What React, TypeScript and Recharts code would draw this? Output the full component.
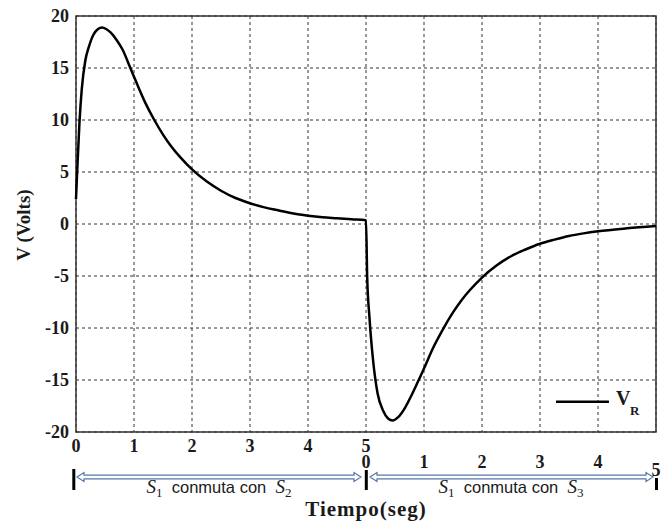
import React from 'react';
import { LineChart, Line, XAxis, YAxis, CartesianGrid, ReferenceArea, Legend } from 'recharts';

// time axis (s), continuous over both switching intervals
const tValues = [
  0, 0.02, 0.06, 0.1, 0.16, 0.22, 0.3, 0.38, 0.45, 0.52, 0.6, 0.7, 0.8, 0.93, 1.05, 1.2, 1.35, 1.5, 1.65, 1.8,
  2.0, 2.25, 2.5, 2.75, 3.0, 3.25, 3.5, 3.75, 4.0, 4.25, 4.5, 4.75, 5.0,
  5.02, 5.06, 5.12, 5.2, 5.3, 5.38, 5.46, 5.55, 5.68, 5.8, 5.9, 6.0, 6.15, 6.3, 6.5, 6.65, 6.8,
  7.0, 7.25, 7.5, 7.75, 8.0, 8.25, 8.5, 8.75, 9.0, 9.5, 10,
];
const vrValues = [
  2.4, 5, 9.8, 13, 15.7, 17, 18.2, 18.75, 18.9, 18.75, 18.4, 17.7, 16.8, 15.1, 13.5, 11.6, 10.0, 8.6, 7.4, 6.4,
  5.25, 4.1, 3.2, 2.5, 2.0, 1.6, 1.3, 1.0, 0.8, 0.65, 0.55, 0.45, 0.35,
  -5, -9, -13, -16.3, -18, -18.7, -18.9, -18.6, -17.6, -16.3, -15.1, -13.9, -12.0, -10.4, -8.5, -7.3, -6.3,
  -5.15, -4.0, -3.1, -2.45, -1.9, -1.5, -1.15, -0.9, -0.7, -0.42, -0.2,
];
const xTicks = [0, 1, 2, 3, 4, 5, 6, 7, 8, 9, 10];
const yTicks = [-20, -15, -10, -5, 0, 5, 10, 15, 20];

const data = tValues.map((t, i) => ({ t, vr: vrValues[i] }));

const SERIF = '"Liberation Serif", "DejaVu Serif", serif';
const SANS = '"Liberation Sans", Arial, sans-serif';
const TXT = '#1a1a1a';
const ARROW = '#5577aa';

const tickX: Record<number, number> = {};

function arrowPath(x1: number, x2: number, cy: number) {
  const sh = 1.8, hh = 4.5, hl = 7;
  return `M${x1},${cy} L${x1 + hl},${cy - hh} L${x1 + hl},${cy - sh} L${x2 - hl},${cy - sh} L${x2 - hl},${cy - hh} L${x2},${cy} L${x2 - hl},${cy + hh} L${x2 - hl},${cy + sh} L${x1 + hl},${cy + sh} L${x1 + hl},${cy + hh} Z`;
}

function SwitchLabel({ cx, y, sub }: { cx: number; y: number; sub: string }) {
  return (
    <text x={cx} y={y} textAnchor="middle" fill={TXT}>
      <tspan fontFamily={SERIF} fontStyle="italic" fontSize={19}>S</tspan>
      <tspan fontFamily={SERIF} fontSize={13} dy={4}>1</tspan>
      <tspan fontFamily={SANS} fontSize={16.5} dy={-4}>{'\u00a0\u00a0conmuta con\u00a0\u00a0'}</tspan>
      <tspan fontFamily={SERIF} fontStyle="italic" fontSize={19}>S</tspan>
      <tspan fontFamily={SERIF} fontSize={13} dy={4}>{sub}</tspan>
    </text>
  );
}

function XTick(props: any) {
  const { x, y, payload } = props;
  const v = payload.value as number;
  tickX[v] = x;
  const st = { fontFamily: SERIF, fontWeight: 'bold' as const, fontSize: 18, fill: TXT };
  const out: React.ReactNode[] = [];
  if (v < 5) out.push(<text key="a" x={x} y={y + 20} textAnchor="middle" {...st}>{v}</text>);
  if (v === 5)
    out.push(
      <text key="a5" x={x} y={y + 20} textAnchor="middle" {...st}>
        <tspan x={x}>5</tspan>
        <tspan x={x} dy={16}>0</tspan>
      </text>
    );
  if (v > 5 && v < 10) out.push(<text key="b" x={x} y={y + 36} textAnchor="middle" {...st}>{v - 5}</text>);
  if (v === 10) out.push(<text key="c" x={x} y={y + 44} textAnchor="middle" {...st}>5</text>);
  if (v === 0) out.push(<rect key="r0" x={x - 3.7} y={y + 37} width={3} height={21} fill="#000" />);
  if (v === 5) {
    out.push(<rect key="r5" x={x - 1.2} y={y + 38} width={3} height={20} fill="#000" />);
    const x0 = tickX[0] ?? x;
    out.push(<path key="ar1" d={arrowPath(x0 + 1, x - 5, y + 45)} fill="#fff" stroke={ARROW} strokeWidth={1.2} />);
    out.push(<SwitchLabel key="l1" cx={(x0 + x) / 2 - 2} y={y + 61} sub="2" />);
  }
  if (v === 10) {
    out.push(<rect key="r10" x={x - 1} y={y + 46} width={3} height={12} fill="#000" />);
    const x5 = tickX[5] ?? x;
    out.push(<path key="ar2" d={arrowPath(x5 + 4, x - 3, y + 45)} fill="#fff" stroke={ARROW} strokeWidth={1.2} />);
    out.push(<SwitchLabel key="l2" cx={(x5 + x) / 2} y={y + 61} sub="3" />);
  }
  return <g>{out}</g>;
}

function YLabel(props: any) {
  const vb = props.viewBox || { x: 0, y: 16, width: 76, height: 416 };
  const cx = vb.x + 23;
  const cy = vb.y + vb.height / 2 + 1;
  return (
    <text x={cx} y={cy} transform={`rotate(-90, ${cx}, ${cy})`} textAnchor="middle" dominantBaseline="central"
      fontFamily={SERIF} fontWeight="bold" fontSize={19} fill={TXT}>V (Volts)</text>
  );
}

function XLabel(props: any) {
  const vb = props.viewBox || { x: 76, y: 432, width: 580, height: 0 };
  const cx = vb.x + vb.width / 2;
  return (
    <text x={cx} y={vb.y + 84} textAnchor="middle" fontFamily={SERIF} fontWeight="bold" fontSize={21}
      letterSpacing={1} fill={TXT}>
      Tiempo(seg)
    </text>
  );
}

function LegendContent() {
  return (
    <svg width={100} height={34} style={{ display: 'block' }}>
      <line x1={6} x2={59} y1={13.7} y2={13.7} stroke="#000" strokeWidth={2.5} />
      <text x={66} y={17} fontFamily={SERIF} fontWeight="bold" fontSize={20} fill={TXT}>V</text>
      <text x={80} y={27} fontFamily={SERIF} fontWeight="bold" fontSize={13} fill={TXT}>R</text>
    </svg>
  );
}

export default function App() {
  return (
    <div style={{ position: 'absolute', left: 0, top: 0, width: 666, height: 524, background: '#fff' }}>
      <LineChart width={666} height={524} data={data} margin={{ top: 16, right: 10, left: 0, bottom: 0 }}>
        <CartesianGrid strokeDasharray="3 3" stroke="#333" strokeWidth={1} />
        <XAxis
          dataKey="t"
          type="number"
          domain={[0, 10]}
          ticks={xTicks}
          interval={0}
          tickLine={false}
          axisLine={false}
          tickSize={0}
          tickMargin={0}
          height={92}
          tick={<XTick />}
          label={<XLabel />}
        />
        <YAxis
          type="number"
          domain={[-20, 20]}
          ticks={yTicks}
          interval={0}
          width={76}
          tickLine={false}
          axisLine={false}
          tickSize={0}
          tickMargin={7}
          tick={{ fontFamily: SERIF, fontWeight: 'bold', fontSize: 18, fill: TXT }}
          label={<YLabel />}
        />
        <ReferenceArea x1={0} x2={10} y1={-20} y2={20} fill="none" fillOpacity={0} stroke="#333" strokeWidth={1.5} ifOverflow="visible" />
        <Line type="monotone" dataKey="vr" stroke="#000" strokeWidth={2.5} dot={false} isAnimationActive={false} />
        <Legend
          layout="horizontal"
          verticalAlign="middle"
          align="center"
          content={<LegendContent />}
          wrapperStyle={{ position: 'absolute', left: 550, top: 388, width: 100, height: 34 }}
        />
      </LineChart>
    </div>
  );
}
